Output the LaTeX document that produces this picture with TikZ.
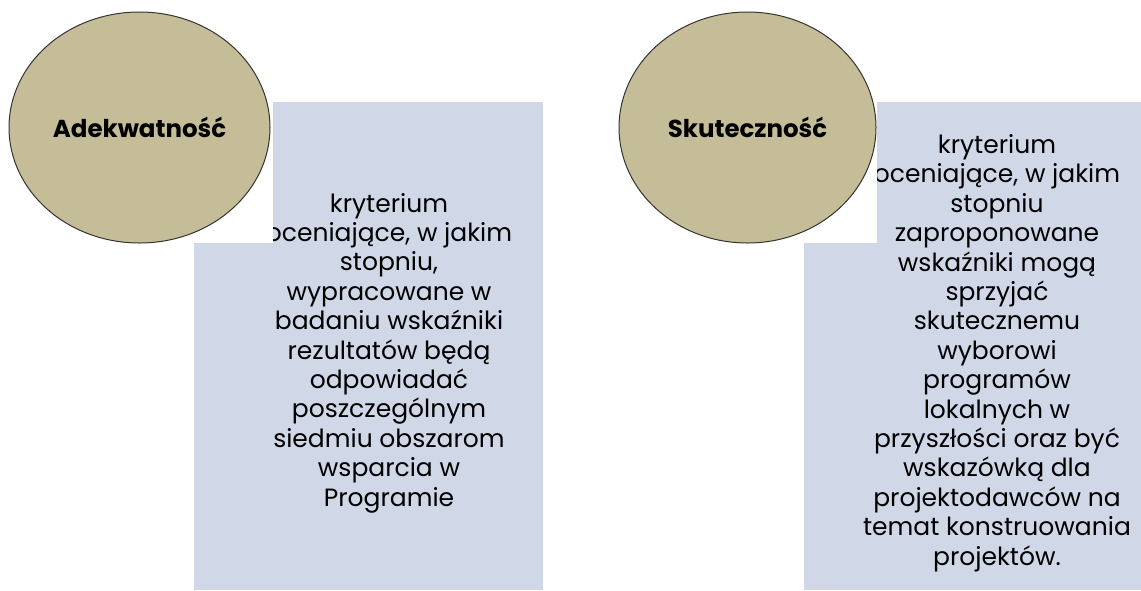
\documentclass[tikz,border=0pt]{standalone}
\usepackage{fontspec}
\setmainfont{Poppins}
\usetikzlibrary{shapes.geometric}

\definecolor{brazowy}{HTML}{C4BD97}
\definecolor{niebieski}{HTML}{D0D8E8}

\tikzset{
  kolo/.style={ellipse, draw=black!80, fill=brazowy, line width=1pt,
    minimum width=261pt, minimum height=231pt, inner sep=0pt,
    font=\bfseries\fontsize{24.5}{28}\selectfont},
  opis/.style={align=center, inner sep=0pt,
    font=\fontsize{25}{29.4}\selectfont},
}

\begin{document}
\begin{tikzpicture}[x=1pt,y=-1pt]
    \useasboundingbox (0,0) rectangle (1141,590);

    % Adekwatność
    \fill[niebieski] (194,102) rectangle (543,590);
    \node[opis] (opisA) at (389,353) {kryterium\\oceniające, w jakim\\stopniu,\\wypracowane w\\badaniu wskaźniki\\rezultatów będą\\odpowiadać\\poszczególnym\\siedmiu obszarom\\wsparcia w\\Programie};
    \fill[white] (194,102) rectangle (273,243);
    \node[kolo] (koloA) at (139.5,127.5) {Adekwatność};

    % Skuteczność
    \fill[niebieski] (804,102) rectangle (1141,590);
    \node[opis] (opisB) at (997,353) {kryterium\\oceniające, w jakim\\stopniu\\zaproponowane\\wskaźniki mogą\\sprzyjać\\skutecznemu\\wyborowi\\programów\\lokalnych w\\przyszłości oraz być\\wskazówką dla\\projektodawców na\\temat konstruowania\\projektów.};
    \fill[white] (804,102) rectangle (877,243);
    \node[kolo, minimum width=257pt] (koloB) at (747.5,127.5) {Skuteczność};
\end{tikzpicture}
\end{document}
